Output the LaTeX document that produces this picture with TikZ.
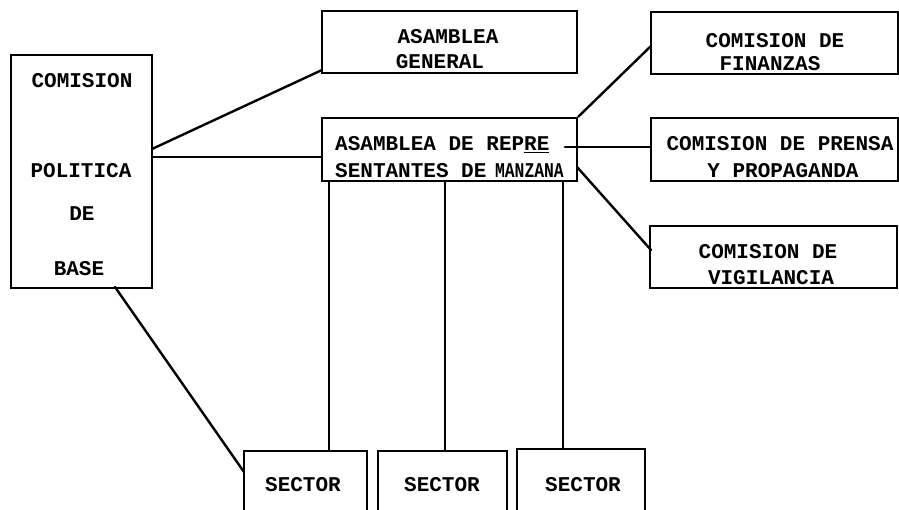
\documentclass[tikz,border=0pt]{standalone}
\usepackage{graphicx}
\usepackage{fontspec}
\newfontfamily\tw{Liberation Mono}
\begin{document}
\begin{tikzpicture}[x=1pt,y=-1pt,
  box/.style={draw,line width=2.4pt,inner sep=0pt,minimum width=#1},
  lbl/.style={font=\tw\bfseries\fontsize{21}{23}\selectfont,inner sep=0pt,anchor=base},
  lblw/.style={font=\tw\bfseries\fontsize{21}{23}\selectfont,inner sep=0pt,anchor=base west},
  conn/.style={line width=2.4pt,line cap=round}]
\useasboundingbox (0,0) rectangle (899,510);
\fill[white] (0,0) rectangle (899,510);
\clip (0,0) rectangle (899,510);
% boxes
\node[box=141pt,minimum height=233pt] (cpb) at (81.5,171.5) {};
\node[box=255pt,minimum height=62pt] (ag) at (449.5,42) {};
\node[box=255pt,minimum height=63pt] (arm) at (449.5,149.5) {};
\node[box=247pt,minimum height=62pt] (fin) at (774.5,43) {};
\node[box=247pt,minimum height=63pt] (pren) at (774.5,149.5) {};
\node[box=247pt,minimum height=62pt] (vig) at (773.5,257) {};
\node[box=123pt,minimum height=80pt] (s1) at (305.5,491) {};
\node[box=129pt,minimum height=80pt] (s2) at (442.5,491) {};
\node[box=128pt,minimum height=82pt] (s3) at (581,490) {};
% texts
\node[lbl] (t1) at (82,88) {COMISION};
\node[lbl] (t2) at (81,178) {POLITICA};
\node[lbl] (t3) at (82,221) {DE};
\node[lbl] (t4) at (79,276) {BASE};
\node[lbl] (t5) at (448,44) {ASAMBLEA};
\node[lbl] (t6) at (440,69) {GENERAL};
\node[lblw] (t7) at (335,151) {ASAMBLEA DE REP\underline{RE}};
\node[lblw] (t8) at (335,178) {SENTANTES DE\hspace{-4pt} \scalebox{0.78}[1]{MANZANA}};
\node[lbl] (t9) at (775,48) {COMISION  DE};
\node[lbl] (t10) at (770,71) {FINANZAS};
\node[lbl] (t11) at (780,151) {COMISION DE PRENSA};
\node[lbl] (t12) at (783,178) {Y PROPAGANDA};
\node[lbl] (t13) at (768,259) {COMISION DE};
\node[lbl] (t14) at (771,285) {VIGILANCIA};
\node[lbl] (t15) at (303,491) {SECTOR};
\node[lbl] (t16) at (442,491) {SECTOR};
\node[lbl] (t17) at (583,491) {SECTOR};
% connector ends
\coordinate (c1) at (152,149);
\coordinate (c2) at (322,70);
\coordinate (c3) at (152,157);
\coordinate (c4) at (322,157);
\coordinate (c5) at (115,287);
\coordinate (c6) at (244,472);
\coordinate (c7) at (651,46);
\coordinate (c8) at (565,147);
\coordinate (c9) at (651,147);
\coordinate (c10) at (577,167);
\coordinate (c11) at (651,250);
\coordinate (v1) at (329,181);
\coordinate (v2) at (445,181);
\coordinate (v3) at (563,181);
% connectors
\draw[conn] (c1) -- (c2);
\draw[conn] (c3) -- (c4);
\draw[conn] (c5) -- (c6);
\draw[conn] (arm.north east) -- (c7);
\draw[conn] (c8) -- (c9);
\draw[conn] (c10) -- (c11);
\draw[conn] (v1) -- (v1 |- s1.north);
\draw[conn] (v2) -- (v2 |- s2.north);
\draw[conn] (v3) -- (v3 |- s3.north);
\end{tikzpicture}
\end{document}
